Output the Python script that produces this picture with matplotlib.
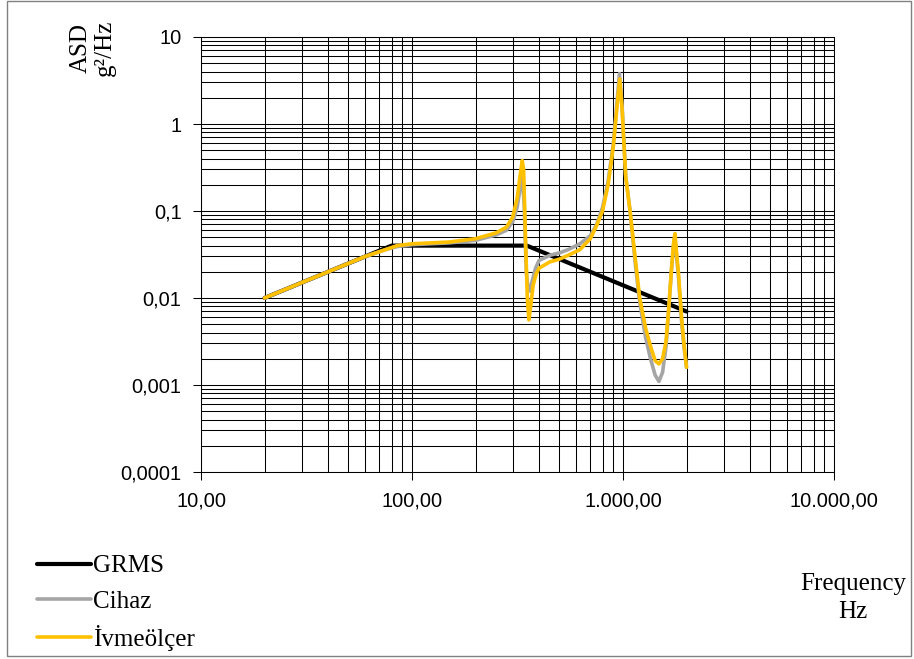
import matplotlib
matplotlib.use("Agg")
import matplotlib.pyplot as plt
from matplotlib.patches import Rectangle
from matplotlib.ticker import FixedLocator, NullFormatter

# ---- data ----
grms_freq = [20, 80, 350, 2000]
grms_asd = [0.01, 0.04, 0.04, 0.007]

cihaz_freq = [20, 40, 60, 75, 85, 100, 150, 200, 250, 280, 300, 315, 325, 333,
              340, 348, 355, 362, 372, 385, 400, 450, 500, 550, 625, 700, 750, 800,
              850, 900, 935, 962, 990, 1030, 1080, 1150, 1200, 1280, 1350, 1420,
              1480, 1540, 1600, 1650, 1700, 1740, 1760, 1790, 1830, 1900, 1950, 2000]
cihaz_asd = [0.01, 0.02, 0.03, 0.036, 0.039, 0.041, 0.043, 0.046, 0.053, 0.060,
             0.075, 0.11, 0.18, 0.25, 0.12, 0.02, 0.013, 0.012, 0.016, 0.022, 0.027,
             0.031, 0.033, 0.036, 0.042, 0.052, 0.07, 0.11, 0.22, 0.6, 1.7, 3.8,
             1.6, 0.25, 0.1, 0.022, 0.009, 0.0035, 0.002, 0.0013, 0.0011, 0.0014,
             0.0028, 0.008, 0.022, 0.043, 0.05, 0.032, 0.018, 0.005, 0.0026, 0.0016]

ivme_freq = [20, 40, 60, 75, 85, 100, 150, 200, 250, 280, 300, 315, 325, 333,
             338, 345, 352, 358, 365, 375, 388, 400, 450, 500, 550, 625, 700, 750,
             800, 850, 900, 935, 965, 990, 1030, 1080, 1150, 1200, 1280, 1350,
             1420, 1480, 1540, 1600, 1650, 1700, 1740, 1765, 1790, 1830, 1900,
             1950, 2000]
ivme_asd = [0.01, 0.02, 0.03, 0.036, 0.040, 0.042, 0.044, 0.048, 0.056, 0.065,
            0.085, 0.14, 0.25, 0.38, 0.30, 0.05, 0.01, 0.0056, 0.008, 0.014, 0.019,
            0.022, 0.026, 0.028, 0.031, 0.036, 0.048, 0.068, 0.10, 0.2, 0.55,
            1.5, 3.3, 1.5, 0.25, 0.1, 0.025, 0.01, 0.0045, 0.0028, 0.0019,
            0.00175, 0.002, 0.0032, 0.008, 0.023, 0.045, 0.055, 0.035, 0.02,
            0.0055, 0.0028, 0.0016]

series_names = ["GRMS", "Cihaz", "İvmeölçer"]
series_colors = ["#000000", "#A5A5A5", "#FFC000"]

x_ticks = [10, 100, 1000, 10000]
x_labels = ["10,00", "100,00", "1.000,00", "10.000,00"]
y_ticks = [0.0001, 0.001, 0.01, 0.1, 1, 10]
y_labels = ["0,0001", "0,001", "0,01", "0,1", "1", "10"]

# ---- figure ----
W, H = 914, 659
fig = plt.figure(figsize=(W / 100, H / 100), dpi=100)
ax = fig.add_axes([201 / W, 1 - 472 / H, (834 - 201) / W, (472 - 37) / H])

ax.set_xscale("log")
ax.set_yscale("log")
ax.set_xlim(10, 10000)
ax.set_ylim(0.0001, 10)

minor_x = [m * 10 ** e for e in range(1, 4) for m in range(2, 10)]
minor_y = [m * 10.0 ** e for e in range(-4, 1) for m in range(2, 10)]
ax.xaxis.set_major_locator(FixedLocator(x_ticks))
ax.yaxis.set_major_locator(FixedLocator(y_ticks))
ax.xaxis.set_minor_locator(FixedLocator(minor_x))
ax.yaxis.set_minor_locator(FixedLocator(minor_y))
ax.xaxis.set_minor_formatter(NullFormatter())
ax.yaxis.set_minor_formatter(NullFormatter())
ax.set_xticklabels(x_labels)
ax.set_yticklabels(y_labels)

ax.grid(True, which="both", color="#000000", linewidth=0.75)
ax.set_axisbelow(True)
ax.tick_params(which="major", direction="out", length=6, width=0.75,
               color="#000000", labelsize=14.4, pad=8, labelcolor="#000000")
ax.tick_params(which="minor", length=0)
for lab in ax.get_xticklabels() + ax.get_yticklabels():
    lab.set_family("Liberation Sans")
for sp in ax.spines.values():
    sp.set_color("#000000")
    sp.set_linewidth(0.75)

l1, = ax.plot(grms_freq, grms_asd, color=series_colors[0], lw=3.0,
              solid_capstyle="round", label=series_names[0])
l2, = ax.plot(cihaz_freq, cihaz_asd, color=series_colors[1], lw=2.6,
              solid_capstyle="round", solid_joinstyle="round", label=series_names[1])
l3, = ax.plot(ivme_freq, ivme_asd, color=series_colors[2], lw=2.6,
              solid_capstyle="round", solid_joinstyle="round", label=series_names[2])

leg = fig.legend(handles=[l1, l2, l3], labels=series_names,
                 loc="upper left", bbox_to_anchor=(37 / W, 1 - 555 / H),
                 frameon=False, prop={"family": "Liberation Serif", "size": 18},
                 handlelength=2.15, handletextpad=0.08, labelspacing=0.5,
                 borderpad=0, borderaxespad=0)

fig.text(93 / W, 1 - 48 / H, "ASD\ng²/Hz", rotation=90, ha="center",
         va="center", multialignment="center", family="Liberation Serif",
         size=18, linespacing=1.15)
fig.text(853 / W, 1 - 598 / H, "Frequency\nHz", ha="center", va="center",
         multialignment="center", family="Liberation Serif", size=18,
         linespacing=1.36)

fig.add_artist(Rectangle((7 / W, 1 - 656 / H), (911 - 7) / W, (656 - 1) / H,
                         transform=fig.transFigure, fill=False,
                         edgecolor="#808080", linewidth=1.0))

fig.savefig("out.png", dpi=100)
